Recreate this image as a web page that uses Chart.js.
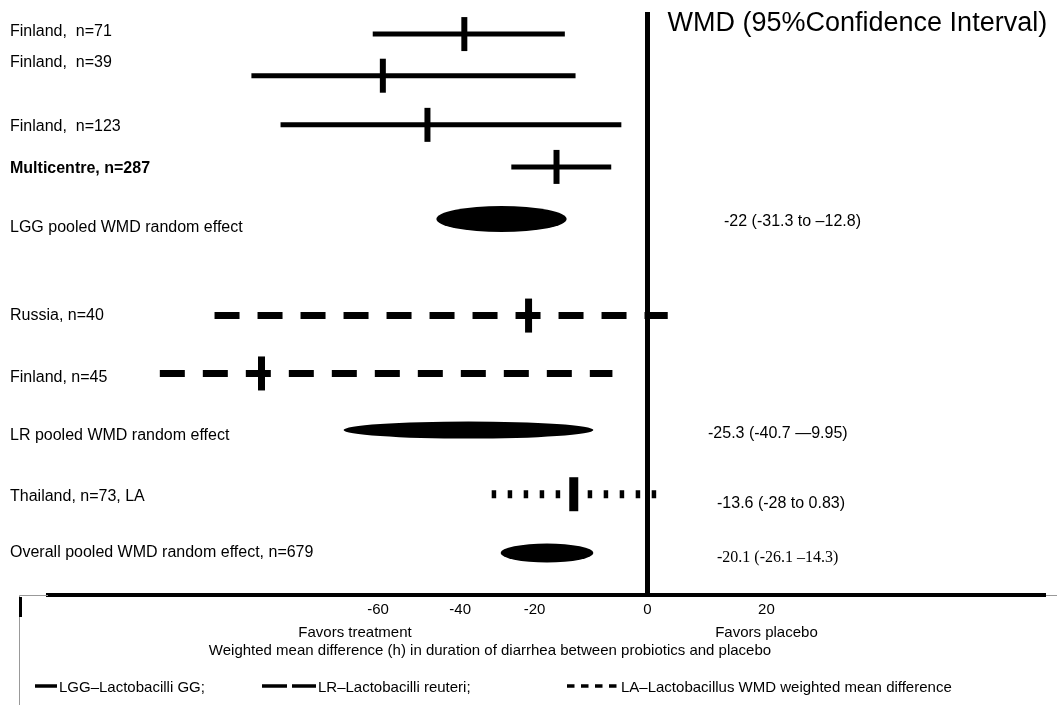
<!DOCTYPE html>
<html>
<head>
<meta charset="utf-8">
<script src="https://cdn.jsdelivr.net/npm/chart.js@4.4.1/dist/chart.umd.min.js"></script>
<style>html,body{margin:0;padding:0;background:#fff;overflow:hidden}</style>
</head>
<body>
<canvas id="c" width="1057" height="705"></canvas>
<script>
// ---------- data ----------
const studyLabels = ['Finland,  n=71','Finland,  n=39','Finland,  n=123','Multicentre, n=287','LGG pooled WMD random effect','Russia, n=40','Finland, n=45','LR pooled WMD random effect','Thailand, n=73, LA','Overall pooled WMD random effect, n=679'];
const studyType   = ['LGG','LGG','LGG','LGG','LGGpool','LR','LR','LRpool','LA','Overall'];
const estimate    = [-30.8,-44.5,-37.0,-15.3,-24.5,-20.0,-64.9,-30.1,-12.4,-17.0];
const lowerCI     = [-46.2,-66.6,-61.7,-22.9,-35.5,-72.8,-82.0,-51.1,-26.2,-24.7];
const upperCI     = [-13.9,-12.1,-4.4,-6.1,-13.6,3.4,-5.9,-9.1,2.2,-9.1];
const summaryText = ['-22 (-31.3 to –12.8)','-25.3 (-40.7 —9.95)','-13.6 (-28 to 0.83)','-20.1 (-26.1 –14.3)'];
const summaryRows = [4,7,8,9];
const xTickLabels = ['-60','-40','-20','0','20'];
const xTickAt     = [-45.3,-31.5,-19.0,0,20];

// ---------- layout (row slots on the y scale) ----------
const rowY   = [0.53,1.53,2.71,3.72,4.97,7.29,8.68,10.04,11.58,12.99];
const labelY = [0.46,1.22,2.76,3.75,5.17,7.30,8.77,10.18,11.63,12.99];

const styles = {
  LGG:     {w:5, dash:[], mw:6, mr:17},
  LR:      {w:7, dash:[25,18], mw:7, mr:17},
  LA:      {w:8, dash:[4.5,11.5], mw:9, mr:17},
  LGGpool: {ellipse:26},
  LRpool:  {ellipse:17},
  Overall: {ellipse:19}
};
const SANS = '"Liberation Sans", Arial, Helvetica, sans-serif';
const SERIF = '"Liberation Serif", "Times New Roman", serif';

const datasets = [];
studyLabels.forEach((lab, i) => {
  const st = styles[studyType[i]];
  if (st.ellipse) {
    datasets.push({type:'scatter', label:lab, data:[{x:estimate[i], y:rowY[i]}], pointRadius:0, ellipseH:st.ellipse, lo:lowerCI[i], hi:upperCI[i]});
    return;
  }
  datasets.push({type:'line', label:lab, data:[{x:lowerCI[i], y:rowY[i]},{x:upperCI[i], y:rowY[i]}],
    borderColor:'#000', borderWidth:st.w, borderDash:st.dash, borderCapStyle:'butt',
    pointRadius:0, fill:false, tension:0});
  datasets.push({type:'scatter', label:lab+' est', data:[{x:estimate[i], y:rowY[i]}],
    pointStyle:'line', pointRotation:90, pointRadius:st.mr, pointBorderWidth:st.mw,
    pointBorderColor:'#000', pointBackgroundColor:'#000', pointHoverRadius:st.mr});
});

const overlay = {
  id:'overlay',
  afterDatasetsDraw(chart) {
    const {ctx, scales:{x, y}} = chart;
    ctx.save();
    ctx.fillStyle = '#000';
    chart.data.datasets.forEach(ds => {
      if (!ds.ellipseH) return;
      const x0 = x.getPixelForValue(ds.lo), x1 = x.getPixelForValue(ds.hi);
      const yc = y.getPixelForValue(ds.data[0].y);
      ctx.beginPath();
      ctx.ellipse((x0+x1)/2, yc, (x1-x0)/2, ds.ellipseH/2, 0, 0, Math.PI*2);
      ctx.fill();
    });
    ctx.restore();
  },
  afterDraw(chart) {
    const {ctx, chartArea:ca, scales:{x, y}} = chart;
    ctx.save();
    ctx.fillStyle = '#000';
    ctx.textBaseline = 'middle';
    // title
    ctx.textAlign = 'left';
    ctx.font = '27px ' + SANS;
    ctx.fillText('WMD (95%Confidence Interval)', x.getPixelForValue(0) + 20, ca.top + 12);
    // summary texts
    const sumX = [724, 708, 717, 717];
    const sumDy = [3, 3, 9, 5];
    summaryText.forEach((t, k) => {
      ctx.font = (k === 3 ? '16px ' + SERIF : '16px ' + SANS);
      ctx.fillText(t, sumX[k], y.getPixelForValue(rowY[summaryRows[k]]) + sumDy[k]);
    });
    // bottom captions
    ctx.textAlign = 'center';
    ctx.font = '15px ' + SANS;
    ctx.fillText('Favors treatment', 355, ca.bottom + 38);
    ctx.fillText('Favors placebo', x.getPixelForValue(20), ca.bottom + 38);
    ctx.fillText('Weighted mean difference (h) in duration of diarrhea between probiotics and placebo', 490, ca.bottom + 56);
    // legend
    const ly = ca.bottom + 91;
    ctx.strokeStyle = '#000';
    ctx.lineCap = 'butt';
    ctx.lineWidth = 3.5;
    const seg = (a, b, dash) => { ctx.setLineDash(dash); ctx.beginPath(); ctx.moveTo(a, ly); ctx.lineTo(b, ly); ctx.stroke(); };
    seg(35, 57, []);
    seg(262, 316, [25, 5]);
    seg(567, 617, [7.5, 6.5]);
    ctx.setLineDash([]);
    ctx.textAlign = 'left';
    ctx.font = '15px ' + SANS;
    ctx.fillText('LGG–Lactobacilli GG;', 59, ly + 2);
    ctx.fillText('LR–Lactobacilli reuteri;', 318, ly + 2);
    ctx.fillText('LA–Lactobacillus WMD weighted mean difference', 621, ly + 2);
    // frame
    ctx.strokeStyle = '#999';
    ctx.lineWidth = 1;
    ctx.beginPath();
    ctx.moveTo(19.5, 705); ctx.lineTo(19.5, ca.bottom + 0.5); ctx.lineTo(ca.left, ca.bottom + 0.5);
    ctx.moveTo(ca.right, ca.bottom + 0.5); ctx.lineTo(1057, ca.bottom + 0.5);
    ctx.stroke();
    ctx.fillRect(19, ca.bottom + 2, 3, 20);
    ctx.restore();
  }
};

new Chart(document.getElementById('c'), {
  data: {datasets},
  options: {
    responsive:false, animation:false, events:[],
    layout:{autoPadding:false, padding:{left:48, right:11, top:12, bottom:0}},
    plugins:{legend:{display:false}, tooltip:{enabled:false}},
    scales:{
      x:{type:'linear', position:'bottom', min:-100.8, max:67,
        afterBuildTicks(s){ s.ticks = xTickAt.map(v => ({value:v})); },
        afterFit(s){ s.height = 110; },
        grid:{drawTicks:false, drawOnChartArea:true,
          color:c => (c.tick && c.tick.value === 0) ? '#000' : 'rgba(0,0,0,0)',
          lineWidth:c => (c.tick && c.tick.value === 0) ? 5 : 0},
        border:{display:true, color:'#000', width:4},
        ticks:{autoSkip:false, maxRotation:0, color:'#000', padding:6,
          font:{family:SANS, size:15},
          callback:(v, i) => xTickLabels[i]}
      },
      y:{type:'linear', position:'left', reverse:true, min:0, max:14,
        afterBuildTicks(s){ s.ticks = labelY.map(v => ({value:v})); },
        afterFit(s){ s.width = 0; },
        grid:{display:false, drawTicks:false},
        border:{display:false},
        ticks:{autoSkip:false, mirror:true, padding:-38, crossAlign:'near', color:'#000',
          font:c => ({family:SANS, size:16, weight: c.index === 3 ? 'bold' : 'normal'}),
          callback:(v, i) => studyLabels[i]}
      }
    }
  },
  plugins:[overlay]
});
</script>
</body>
</html>
